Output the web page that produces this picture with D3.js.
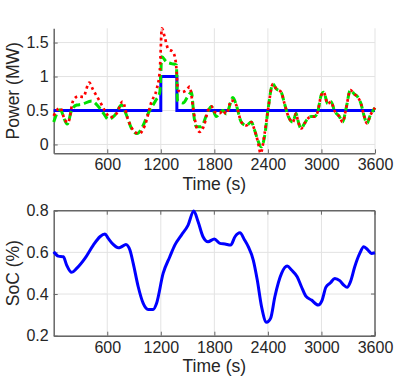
<!DOCTYPE html>
<html>
<head>
<meta charset="utf-8">
<script src="https://cdn.jsdelivr.net/npm/d3@7"></script>
<style>
  body { margin: 0; background: #fff; }
  svg text { font-family: 'Liberation Sans', Arial, sans-serif; fill: #262626; }
</style>
</head>
<body>
<svg width="415" height="385"></svg>
<script>
// values
const xTicks = [600, 1200, 1800, 2400, 3000, 3600];
const powerTicks = [0, 0.5, 1, 1.5];
const socTicks = [0.2, 0.4, 0.6, 0.8];

const gridTime = [0, 1200, 1200.1, 1380, 1380.1, 3600];
const gridMW = [0.5, 0.5, 1, 1, 0.5, 0.5];

const battTime = [0, 70, 152, 200, 257, 313, 425, 500, 573, 610, 685, 760, 816, 872, 935, 1002,
  1058, 1144, 1189, 1211, 1260, 1319, 1375, 1386, 1449, 1500, 1543, 1572, 1599, 1655, 1711,
  1766, 1822, 1859, 1896, 1934, 2008, 2046, 2102, 2158, 2214, 2251, 2288, 2325, 2363, 2400,
  2456, 2493, 2549, 2586, 2630, 2679, 2716, 2735, 2772, 2810, 2847, 2884, 2921, 2958, 2996,
  3025, 3070, 3108, 3145, 3201, 3238, 3276, 3324, 3369, 3406, 3443, 3480, 3510, 3547, 3600];
const battMW = [0.33, 0.51, 0.30, 0.50, 0.58, 0.59, 0.64, 0.56, 0.43, 0.37, 0.43, 0.58, 0.43, 0.235, 0.16, 0.28,
  0.455, 0.65, 0.77, 1.29, 1.22, 1.19, 1.17, 0.65, 0.61, 0.70, 0.77, 0.41, 0.26, 0.26, 0.43,
  0.56, 0.41, 0.46, 0.50, 0.45, 0.69, 0.58, 0.33, 0.28, 0.33, 0.21, 0.06, -0.035, 0.12, 0.50,
  0.89, 0.82, 0.77, 0.60, 0.41, 0.33, 0.455, 0.36, 0.235, 0.31, 0.38, 0.41, 0.41, 0.48, 0.72,
  0.77, 0.60, 0.63, 0.50, 0.41, 0.33, 0.53, 0.80, 0.74, 0.70, 0.60, 0.41, 0.31, 0.43, 0.54];

const loadTime = [0, 70, 126, 160, 219, 275, 331, 398, 443, 510, 573, 630, 704, 771, 834, 909,
  957, 1021, 1096, 1151, 1189, 1212, 1244, 1281, 1337, 1370, 1393, 1431, 1487, 1524, 1561,
  1599, 1636, 1684, 1729, 1766, 1803, 1859, 1896, 1934, 1990, 2046, 2102, 2158, 2214, 2251,
  2288, 2318, 2363, 2400, 2456, 2493, 2549, 2586, 2630, 2679, 2716, 2735, 2772, 2810, 2847,
  2884, 2921, 2958, 2996, 3025, 3070, 3108, 3145, 3201, 3238, 3276, 3324, 3369, 3406, 3443,
  3480, 3510, 3547, 3600];
const loadMW = [0.42, 0.54, 0.36, 0.32, 0.65, 0.71, 0.70, 0.91, 0.80, 0.65, 0.50, 0.40, 0.455, 0.63, 0.36, 0.185,
  0.16, 0.28, 0.63, 0.80, 1.09, 1.71, 1.58, 1.41, 1.36, 1.19, 0.80, 0.77, 0.80, 0.85, 0.55,
  0.26, 0.185, 0.28, 0.50, 0.56, 0.48, 0.46, 0.50, 0.45, 0.65, 0.58, 0.33, 0.28, 0.33, 0.21,
  0.04, -0.13, 0.16, 0.50, 0.89, 0.82, 0.77, 0.60, 0.41, 0.33, 0.455, 0.36, 0.235, 0.31, 0.38,
  0.41, 0.41, 0.48, 0.72, 0.77, 0.60, 0.63, 0.50, 0.41, 0.33, 0.53, 0.80, 0.74, 0.70, 0.60,
  0.41, 0.31, 0.43, 0.54];

const socTime = [0, 52, 108, 145, 201, 257, 350, 444, 518, 574, 611, 667, 723, 760, 809, 854,
  891, 947, 1003, 1058, 1114, 1152, 1226, 1301, 1357, 1431, 1506, 1569, 1618, 1673, 1729,
  1800, 1863, 1919, 1983, 2031, 2087, 2135, 2180, 2236, 2281, 2329, 2385, 2430, 2478, 2553,
  2616, 2665, 2728, 2776, 2825, 2888, 2963, 3008, 3049, 3101, 3150, 3205, 3250, 3287, 3325,
  3373, 3429, 3474, 3522, 3560, 3600];
const soc = [0.603, 0.582, 0.579, 0.539, 0.504, 0.523, 0.571, 0.635, 0.675, 0.688, 0.667, 0.638, 0.622, 0.627, 0.638, 0.611,
  0.547, 0.435, 0.355, 0.326, 0.326, 0.355, 0.499, 0.579, 0.635, 0.683, 0.731, 0.798, 0.747, 0.675, 0.651,
  0.664, 0.643, 0.64, 0.635, 0.675, 0.694, 0.662, 0.627, 0.563, 0.467, 0.339, 0.264, 0.283, 0.387, 0.499,
  0.534, 0.515, 0.483, 0.435, 0.39, 0.371, 0.347, 0.371, 0.432, 0.454, 0.475, 0.464, 0.443, 0.432, 0.459,
  0.531, 0.595, 0.627, 0.611, 0.595, 0.598];

const svg = d3.select('svg');
const left = 53.7;
const right = 375;
const axisColor = '#666';
const gridColor = '#e3e3e3';

const x = d3.scaleLinear().domain([0, 3600]).range([left, right]);
const yPower = d3.scaleLinear().domain([-0.13, 1.71]).range([153.3, 28.3]);
const ySoc = d3.scaleLinear().domain([0.2, 0.8]).range([335.7, 210.7]);

const zip = (ts, vs) => ts.map((t, i) => [t, vs[i]]);

// draws grid, axes and labels for one panel
const panel = (y, yTicks, fmt, ylabel, box) => {
  const [y0, y1] = y.range();
  const g = svg.append('g');
  g.selectAll('.gx').data(xTicks).enter().append('line')
    .attr('x1', d => x(d)).attr('x2', d => x(d))
    .attr('y1', y0).attr('y2', y1)
    .attr('stroke', gridColor).attr('stroke-width', 1);
  g.selectAll('.gy').data(yTicks).enter().append('line')
    .attr('x1', left).attr('x2', right)
    .attr('y1', d => y(d)).attr('y2', d => y(d))
    .attr('stroke', gridColor).attr('stroke-width', 1);

  const xAxis = g.append('g').attr('transform', `translate(0,${y0})`)
    .call(d3.axisBottom(x).tickValues(xTicks).tickFormat(d3.format('d'))
      .tickSizeInner(-4).tickSizeOuter(0).tickPadding(5.5));
  const yAxis = g.append('g').attr('transform', `translate(${left},0)`)
    .call(d3.axisLeft(y).tickValues(yTicks).tickFormat(fmt).tickSizeInner(-4).tickSizeOuter(0).tickPadding(5));
  [xAxis, yAxis].forEach((a) => {
    a.select('.domain').attr('stroke', axisColor).attr('stroke-width', 1.5);
    a.selectAll('.tick line').attr('stroke', axisColor);
    a.selectAll('.tick text').style('font-size', '16px').attr('fill', '#262626');
  });

  if (box) {
    g.append('line').attr('x1', left).attr('x2', right).attr('y1', y1).attr('y2', y1)
      .attr('stroke', axisColor).attr('stroke-width', 1.5);
    g.append('line').attr('x1', right).attr('x2', right).attr('y1', y0).attr('y2', y1)
      .attr('stroke', axisColor).attr('stroke-width', 1.5);
    g.selectAll('.tt').data(xTicks).enter().append('line')
      .attr('x1', d => x(d)).attr('x2', d => x(d)).attr('y1', y1).attr('y2', y1 + 4)
      .attr('stroke', axisColor);
    g.selectAll('.tr').data(yTicks).enter().append('line')
      .attr('x1', right).attr('x2', right - 4).attr('y1', d => y(d)).attr('y2', d => y(d))
      .attr('stroke', axisColor);
  }

  g.append('text')
    .attr('x', (left + right) / 2).attr('y', y0 + 36.7)
    .attr('text-anchor', 'middle').style('font-size', '17.5px')
    .text('Time (s)');
  g.append('text')
    .attr('transform', `translate(19,${(y0 + y1) / 2}) rotate(-90)`)
    .attr('text-anchor', 'middle').style('font-size', '17.5px')
    .text(ylabel);
};

panel(yPower, powerTicks, d => d3.format('~g')(d), 'Power (MW)', false);
panel(ySoc, socTicks, d3.format('.1f'), 'SoC (%)', true);

const linePower = d3.line().x(d => x(d[0])).y(d => yPower(d[1]));
const smoothPower = d3.line().x(d => x(d[0])).y(d => yPower(d[1])).curve(d3.curveMonotoneX);
const lineSoc = d3.line().x(d => x(d[0])).y(d => ySoc(d[1])).curve(d3.curveMonotoneX);

svg.append('path').datum(zip(gridTime, gridMW))
  .attr('d', linePower).attr('fill', 'none')
  .attr('stroke', '#0000ff').attr('stroke-width', 3);

svg.append('path').datum(zip(battTime, battMW))
  .attr('d', smoothPower).attr('fill', 'none')
  .attr('stroke', '#00e000').attr('stroke-width', 3)
  .attr('stroke-dasharray', '8,4');

svg.append('path').datum(zip(loadTime, loadMW))
  .attr('d', smoothPower).attr('fill', 'none')
  .attr('stroke', '#ff0000').attr('stroke-width', 2.7)
  .attr('stroke-dasharray', '2.7,3.3');

svg.append('path').datum(zip(socTime, soc))
  .attr('d', lineSoc).attr('fill', 'none')
  .attr('stroke', '#0000ff').attr('stroke-width', 3)
  .attr('stroke-linejoin', 'round');
</script>
</body>
</html>
